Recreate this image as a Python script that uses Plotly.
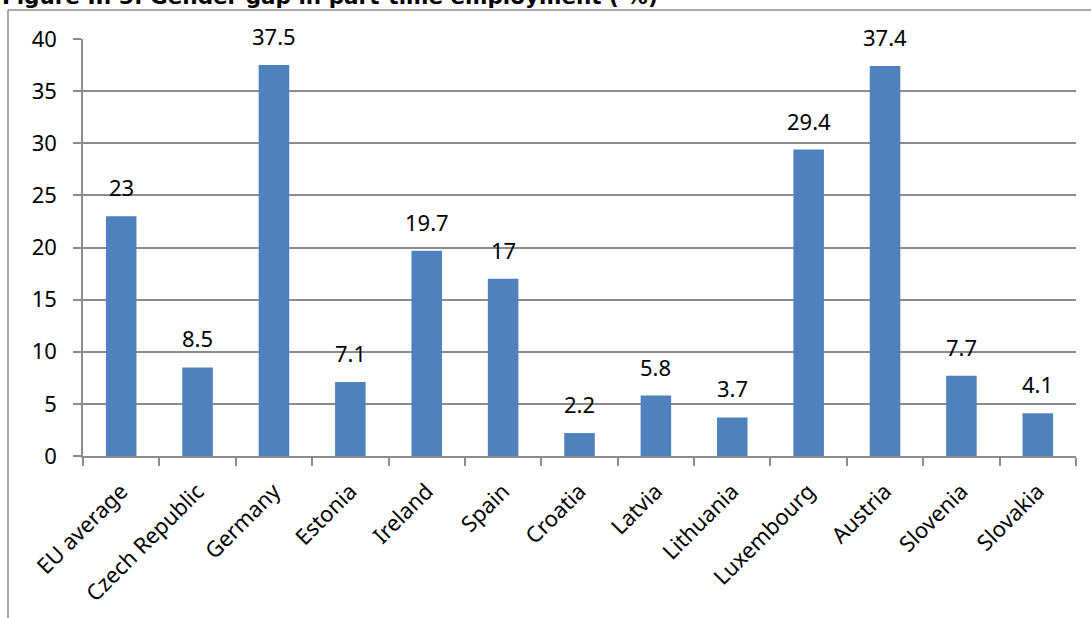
import plotly.graph_objects as go

countries = ["EU average", "Czech Republic", "Germany", "Estonia", "Ireland", "Spain",
             "Croatia", "Latvia", "Lithuania", "Luxembourg", "Austria", "Slovenia", "Slovakia"]
gap = [23, 8.5, 37.5, 7.1, 19.7, 17, 2.2, 5.8, 3.7, 29.4, 37.4, 7.7, 4.1]
y_ticks = [0, 5, 10, 15, 20, 25, 30, 35, 40]

W, H = 1091, 618
L, R, T, B = 83, 15, 39, 162
pw, ph = W - L - R, H - T - B

FONT = "Noto Sans"
FS = 22
GRID = "#8c8c8c"

fig = go.Figure()
fig.add_trace(go.Bar(
    x=countries, y=gap,
    marker=dict(color="#4f81bd", line=dict(width=0)),
    width=0.4,
    hoverinfo="x+y",
))

# value labels above each bar
for c, v in zip(countries, gap):
    fig.add_annotation(
        x=c, y=v, xref="x", yref="y",
        text=f"{v:g}", showarrow=False,
        yanchor="bottom", yshift=12,
        font=dict(family=FONT, size=FS, color="black"),
    )

# figure caption, partly cut by the top edge
fig.add_annotation(
    x=(0 - L) / pw, y=(ph + T - 11) / ph, xref="paper", yref="paper",
    xanchor="left", yanchor="bottom", showarrow=False,
    text="<b>Figure II. 3: Gender gap in part-time employment ( %)</b>",
    font=dict(family="DejaVu Sans", size=21.5, color="black"),
)

# outer chart-area frame (left and top edges visible)
fx0 = (8 - L) / pw
fy0 = (ph + T - 10) / ph
fig.add_shape(type="line", xref="paper", yref="paper",
              x0=fx0, x1=fx0, y0=fy0, y1=-(B + 5) / ph,
              line=dict(color=GRID, width=1.5))
fig.add_shape(type="line", xref="paper", yref="paper",
              x0=fx0, x1=(W - L + 5) / pw, y0=fy0, y1=fy0,
              line=dict(color=GRID, width=1.5))

fig.update_layout(
    width=W, height=H,
    margin=dict(l=L, r=R, t=T, b=B, autoexpand=False),
    paper_bgcolor="white", plot_bgcolor="white",
    showlegend=False,
    font=dict(family=FONT, size=FS, color="black"),
    xaxis=dict(
        type="category", tickson="boundaries",
        ticks="outside", ticklen=8, tickcolor=GRID, tickwidth=1.5,
        showline=True, linecolor=GRID, linewidth=1.5,
        showgrid=False, tickangle=-45, ticklabelstandoff=12,
        tickfont=dict(family=FONT, size=FS),
    ),
    yaxis=dict(
        range=[0, 40], tickvals=y_ticks,
        ticks="outside", ticklen=8, tickcolor=GRID, tickwidth=1.5,
        showline=True, linecolor=GRID, linewidth=1.5,
        showgrid=True, gridcolor=GRID, gridwidth=1.5,
        zeroline=False, ticklabelstandoff=12,
        tickfont=dict(family=FONT, size=FS),
    ),
)

fig.write_html("out.html")
